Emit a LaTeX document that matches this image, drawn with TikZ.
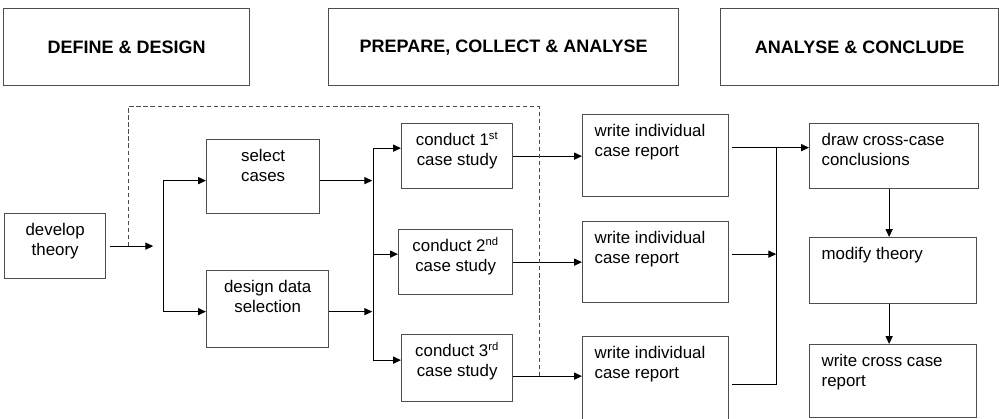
\documentclass[tikz,border=0pt]{standalone}
\usepackage{fontspec}
\setmainfont{Liberation Sans}
\usepackage{tikz}
\usetikzlibrary{arrows.meta,calc}
\definecolor{BoxGray}{HTML}{4d4d4d}
\newlength\pxu
\setlength\pxu{0.025cm}
\newcommand{\boxtext}[4]{\parbox[t][#1\pxu][t]{#2\pxu}{#3\rule{0pt}{22\pxu}#4}}
\newcommand{\leftpad}{\raggedright\leftskip=12\pxu}

\begin{document}
\begin{tikzpicture}[x=0.025cm, y=-0.025cm,
    stagebox/.style={draw=BoxGray, line width=0.9pt, inner sep=0pt, anchor=north west,
        font=\fontsize{12}{14}\selectfont},
    titlebox/.style={stagebox, font=\bfseries\fontsize{12.8}{15}\selectfont},
    flow/.style={black, line width=0.75pt, -{Triangle[length=5.6pt,width=5pt]}},
    both/.style={black, line width=0.75pt, {Triangle[length=5.6pt,width=5pt]}-{Triangle[length=5.6pt,width=5pt]}},
    plain/.style={black, line width=0.75pt},
    loopback/.style={BoxGray, line width=0.75pt, dash pattern=on 3pt off 2pt}]
    \useasboundingbox (0,0) rectangle (999,419);

    \foreach \id/\x/\w/\txt in
    {define/3/246/{DEFINE \& DESIGN},prepare/328/350/{PREPARE, COLLECT \& ANALYSE},conclude/720/278/{ANALYSE \& CONCLUDE}} {
     \node[titlebox] (\id) at (\x,8) {\parbox[c][77\pxu][c]{\w\pxu}{\centering\txt}};
    }

    \node[stagebox] (dev) at (4,213) {\boxtext{65}{101}{\centering}{develop\\theory}};
    \node[stagebox] (sel) at (206,139) {\boxtext{74}{113}{\centering}{select\\cases}};
    \node[stagebox] (des) at (206,270) {\boxtext{77}{122}{\centering}{design data\\selection}};

    \node[stagebox] (c1) at (401,123) {\boxtext{65}{111}{\centering}{conduct 1\textsuperscript{st}\\case study}};
    \node[stagebox] (c2) at (398,229) {\boxtext{65}{114}{\centering}{conduct 2\textsuperscript{nd}\\case study}};
    \node[stagebox] (c3) at (401,334) {\boxtext{67}{111}{\centering}{conduct 3\textsuperscript{rd}\\case study}};

    \foreach \i/\y/\h in {1/114/82,2/221/81,3/336/86} {
     \node[stagebox] (w\i) at (582,\y) {\boxtext{\h}{146}{\leftpad}{write individual\\case report}};
    }

    \node[stagebox] (dcc) at (809,123) {\boxtext{65}{169}{\leftpad}{draw cross-case\\conclusions}};
    \node[stagebox] (mod) at (809,237) {\boxtext{66}{167}{\leftpad}{modify theory}};
    \node[stagebox] (wcr) at (809,344) {\boxtext{73}{167}{\leftpad}{write cross case\\report}};

    % define & design
    \coordinate (devout) at ($(dev.east)+(47,0)$);
    \coordinate (fork) at ($(devout)+(10,0)$);
    \draw[flow] ($(dev.east)+(4,0)$) -- (devout);
    \draw[both] ($(sel.west)+(0,4)$) -| (fork) |- ($(des.west)+(0,2.5)$);

    % into the case studies
    \coordinate (merge) at ($(sel.east)+(53,0)$);
    \draw[flow] ($(sel.east)+(0,4)$) -- ($(merge)+(-1,4)$);
    \draw[flow] ($(des.east)+(0,2.5)$) -- ($(des.east -| merge)+(-1,2.5)$);
    \draw[both] ($(c1.west)+(0,-8)$) -| (merge) |- ($(c3.west)+(0,-8)$);
    \draw[flow] ($(c2.west -| merge)+(0,-8)$) -- ($(c2.west)+(0,-8)$);

    \draw[flow] (c1.east) -- (c1.east -| w1.west);
    \draw[flow] (c2.east) -- (c2.east -| w2.west);
    \draw[flow] ($(c3.east)+(0,8)$) -- ($(c3.east -| w3.west)+(0,8)$);

    % loop back to theory
    \coordinate (loopstart) at ($(dev.east)+(22,0)$);
    \draw[loopback] (loopstart) -- ++(0,-139.5) -| ($(c3.east)+(26,8)$);

    % cross-case
    \coordinate (wout) at ($(w1.east)+(3,-8)$);
    \coordinate (join) at ($(w2.east)+(47,0)$);
    \draw[flow] (wout) -- (wout -| dcc.west);
    \draw[flow] ($(w2.east)+(3,-8)$) -- ($(w2.east -| join)+(0,-8)$);
    \draw[plain] ($(w3.east)+(3,5)$) -| (wout -| join);

    \coordinate (down) at ($(dcc.south)+(-5,0)$);
    \draw[flow] (down) -- (down |- mod.north);
    \draw[flow] (down |- mod.south) -- (down |- wcr.north);
\end{tikzpicture}
\end{document}
